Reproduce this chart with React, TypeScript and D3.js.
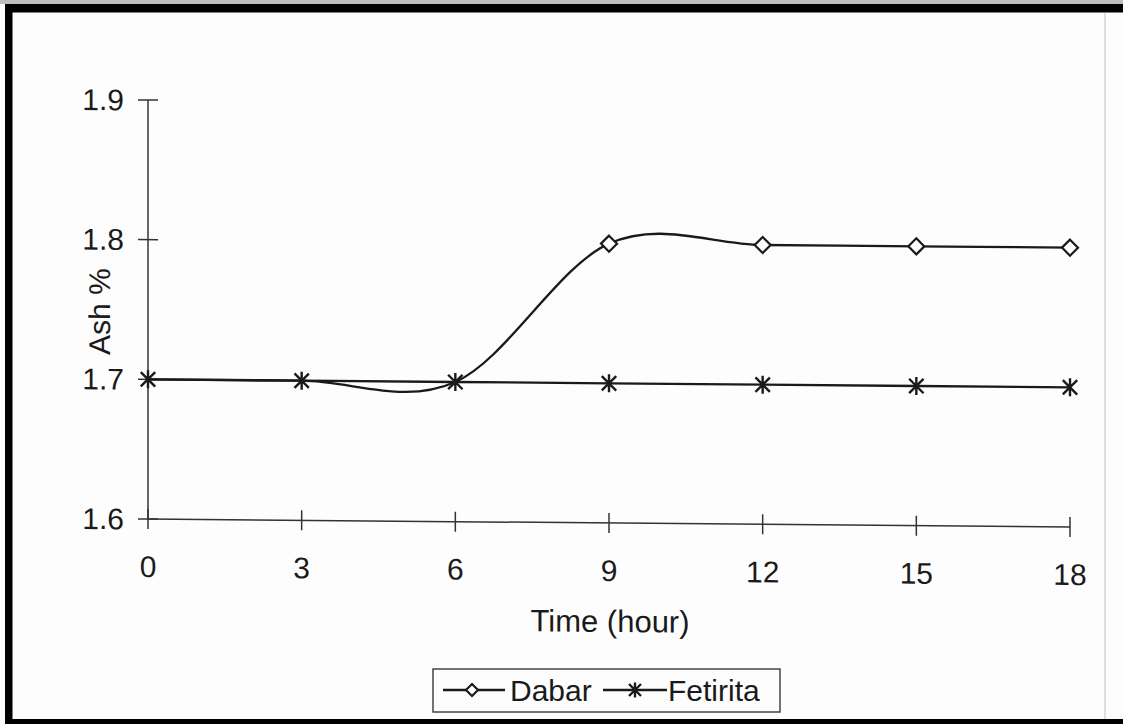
import React from "react";
import * as d3 from "d3";

const hours = [0, 3, 6, 9, 12, 15, 18];
const dabar = [1.7, 1.7, 1.7, 1.8, 1.8, 1.8, 1.8];
const fetirita = [1.7, 1.7, 1.7, 1.7, 1.7, 1.7, 1.7];
const yTicks = [1.6, 1.7, 1.8, 1.9];
const seriesNames = ["Dabar", "Fetirita"];

const W = 1123;
const H = 724;
const FONT = "'Liberation Sans', Arial, sans-serif";
const INK = "#1a1a1a";

const x = d3.scaleLinear().domain([0, 18]).range([148, 1070]);
const y = d3.scaleLinear().domain([1.6, 1.9]).range([519, 100]);

function Diamond({ cx, cy, r = 8 }: { cx: number; cy: number; r?: number }) {
  return (
    <path
      d={`M${cx},${cy - r}L${cx + r},${cy}L${cx},${cy + r}L${cx - r},${cy}Z`}
      fill="#fff"
      stroke={INK}
      strokeWidth={2.2}
    />
  );
}

function Star({ cx, cy, r = 9 }: { cx: number; cy: number; r?: number }) {
  const d = r * 0.8;
  return (
    <path
      d={`M${cx},${cy - r}L${cx},${cy + r}M${cx - d},${cy - d}L${cx + d},${cy + d}M${cx - d},${cy + d}L${cx + d},${cy - d}`}
      stroke={INK}
      strokeWidth={2.4}
      fill="none"
    />
  );
}

export default function App() {
  const line = d3
    .line<number>()
    .x((_, i) => x(hours[i]))
    .y((v) => y(v))
    .curve(d3.curveCardinal.tension(0));
  const straight = d3
    .line<number>()
    .x((_, i) => x(hours[i]))
    .y((v) => y(v));

  const x0 = x(0);
  const x1 = x(18);
  const yb = y(1.6);
  const yt = y(1.9);
  const k = 8 / 922; // scan skew

  return (
    <svg
      width={W}
      height={H}
      viewBox={`0 0 ${W} ${H}`}
      style={{ position: "absolute", left: 0, top: 0, background: "#fff" }}
      fontFamily={FONT}
    >
      <rect x={0} y={0} width={W} height={H} fill="#fdfdfd" />
      <rect x={0} y={0} width={W} height={4} fill="#bdbdbd" />
      {/* frame */}
      <rect x={5} y={4} width={W - 5} height={8.5} fill="#000" />
      <rect x={5} y={4} width={7.5} height={H - 4} fill="#000" />
      <rect x={5} y={719} width={W - 5} height={5} fill="#000" />
      <line x1={1105} y1={13} x2={1105} y2={719} stroke="#d4d4d4" strokeWidth={1.5} />

      <g transform={`matrix(1 ${k} 0 1 0 ${-k * x0})`}>
        {/* axes */}
        <line x1={x0} y1={yt} x2={x0} y2={yb} stroke="#333" strokeWidth={1.5} />
        <line x1={x0} y1={yb} x2={x1} y2={yb} stroke="#333" strokeWidth={1.5} />
        {yTicks.map((t) => (
          <g key={t}>
            <line x1={x0 - 10} x2={x0 + 10} y1={y(t)} y2={y(t)} stroke="#333" strokeWidth={1.5} />
            <text x={124} y={y(t) + 10.5} textAnchor="end" fontSize={30} fill={INK}>
              {t.toFixed(1)}
            </text>
          </g>
        ))}
        {hours.map((h) => (
          <g key={h}>
            <line x1={x(h)} x2={x(h)} y1={yb - 10} y2={yb + 10} stroke="#333" strokeWidth={1.5} />
            <text x={x(h)} y={577} textAnchor="middle" fontSize={30} fill={INK}>
              {h}
            </text>
          </g>
        ))}
        <text x={610} y={628} textAnchor="middle" fontSize={31} fill={INK}>
          Time (hour)
        </text>
        <text transform="translate(110 312) rotate(-90)" textAnchor="middle" fontSize={30} fill={INK}>
          Ash %
        </text>

        {/* series */}
        <path d={line(dabar) || ""} fill="none" stroke={INK} strokeWidth={2.3} />
        <path d={straight(fetirita) || ""} fill="none" stroke={INK} strokeWidth={2.3} />
        {dabar.map((v, i) =>
          fetirita[i] === v ? null : <Diamond key={"d" + i} cx={x(hours[i])} cy={y(v)} />
        )}
        {fetirita.map((v, i) => (
          <Star key={"f" + i} cx={x(hours[i])} cy={y(v)} />
        ))}
      </g>

      {/* legend */}
      <g>
        <rect x={433} y={669} width={347} height={43} fill="none" stroke="#444" strokeWidth={1.5} />
        <line x1={443} x2={505} y1={690} y2={690} stroke={INK} strokeWidth={2.3} />
        <Diamond cx={472} cy={690} r={6} />
        <text x={510} y={701} fontSize={30} fill={INK}>
          {seriesNames[0]}
        </text>
        <line x1={603} x2={667} y1={690} y2={690} stroke={INK} strokeWidth={2.3} />
        <Star cx={635} cy={690} r={7.5} />
        <text x={668} y={701} fontSize={30} fill={INK}>
          {seriesNames[1]}
        </text>
      </g>
    </svg>
  );
}
